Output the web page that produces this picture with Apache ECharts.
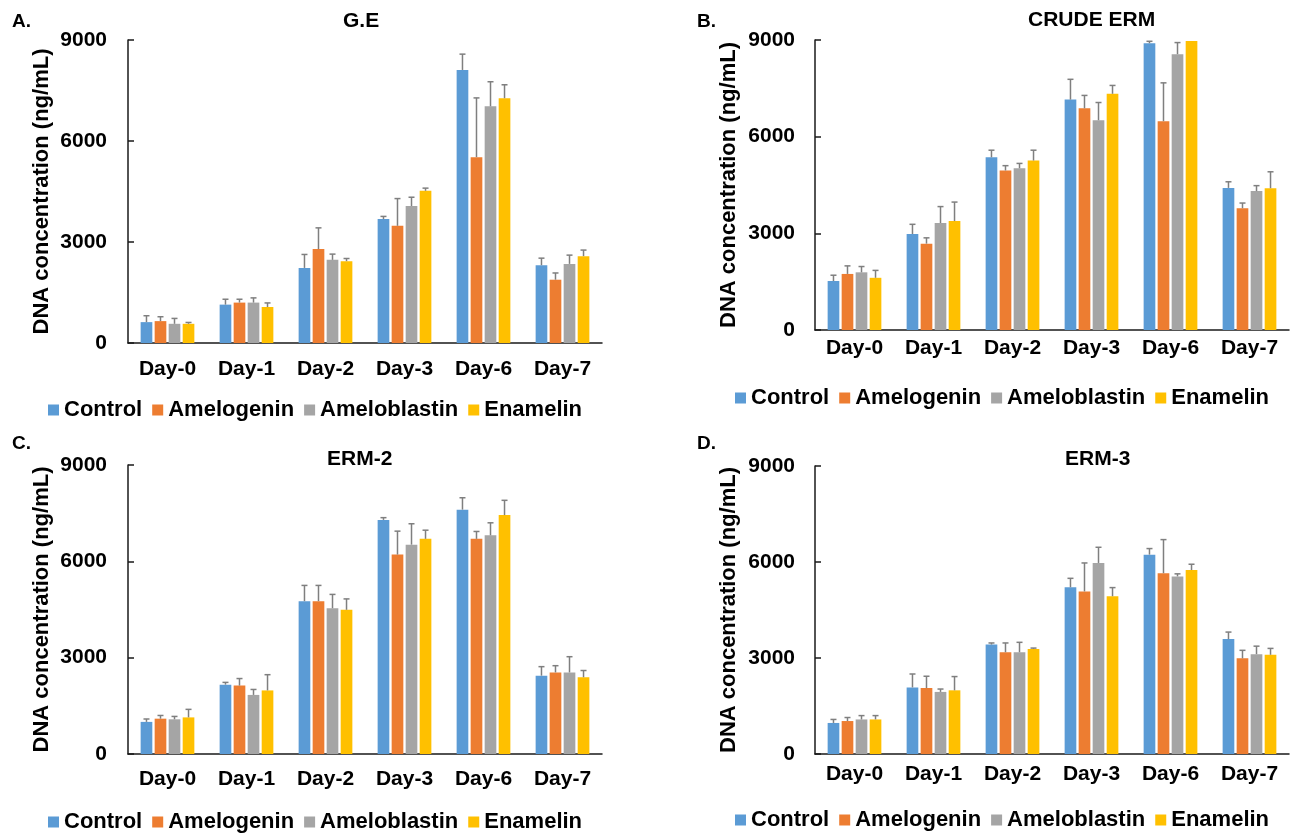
<!DOCTYPE html>
<html>
<head>
<meta charset="utf-8">
<script src="https://cdn.jsdelivr.net/npm/echarts@6/dist/echarts.min.js"></script>
<style>
html,body{margin:0;padding:0;background:#fff;}
#chart{width:1295px;height:834px;}
</style>
</head>
<body>
<div id="chart"></div>
<script>
// ---- Data ----
const categories = ['Day-0', 'Day-1', 'Day-2', 'Day-3', 'Day-6', 'Day-7'];
const seriesNames = ['Control', 'Amelogenin', 'Ameloblastin', 'Enamelin'];
const yTicks = [0, 3000, 6000, 9000];
const panelTitles = ['G.E', 'CRUDE ERM', 'ERM-2', 'ERM-3'];
const panelLetters = ['A.', 'B.', 'C.', 'D.'];

// A. G.E
const geControl = [620, 1140, 2230, 3680, 8110, 2310];
const geControlErr = [190, 160, 400, 80, 470, 210];
const geAmelogenin = [650, 1200, 2790, 3480, 5520, 1880];
const geAmelogeninErr = [130, 100, 630, 810, 1760, 200];
const geAmeloblastin = [570, 1200, 2470, 4070, 7030, 2350];
const geAmeloblastinErr = [160, 140, 170, 260, 730, 260];
const geEnamelin = [570, 1070, 2430, 4520, 7270, 2580];
const geEnamelinErr = [40, 120, 80, 80, 400, 180];

// B. CRUDE ERM
const crudeControl = [1520, 2980, 5360, 7150, 8900, 4410];
const crudeControlErr = [180, 300, 220, 630, 60, 190];
const crudeAmelogenin = [1740, 2680, 4950, 6880, 6480, 3780];
const crudeAmelogeninErr = [250, 180, 150, 400, 1190, 160];
const crudeAmeloblastin = [1790, 3320, 5020, 6510, 8560, 4310];
const crudeAmeloblastinErr = [180, 510, 150, 550, 360, 170];
const crudeEnamelin = [1620, 3380, 5260, 7330, 8970, 4400];
const crudeEnamelinErr = [230, 590, 320, 260, 0, 510];

// C. ERM-2
const erm2Control = [1000, 2160, 4760, 7290, 7610, 2440];
const erm2ControlErr = [90, 70, 490, 70, 370, 280];
const erm2Amelogenin = [1100, 2130, 4760, 6210, 6700, 2540];
const erm2AmelogeninErr = [100, 220, 490, 730, 230, 210];
const erm2Ameloblastin = [1080, 1840, 4540, 6520, 6810, 2540];
const erm2AmeloblastinErr = [90, 170, 430, 650, 390, 490];
const erm2Enamelin = [1140, 1980, 4490, 6700, 7440, 2390];
const erm2EnamelinErr = [250, 490, 340, 270, 460, 210];

// D. ERM-3
const erm3Control = [970, 2080, 3420, 5210, 6230, 3590];
const erm3ControlErr = [110, 420, 50, 280, 190, 220];
const erm3Amelogenin = [1030, 2060, 3180, 5080, 5650, 2990];
const erm3AmelogeninErr = [110, 370, 290, 890, 1050, 250];
const erm3Ameloblastin = [1080, 1940, 3180, 5970, 5550, 3120];
const erm3AmeloblastinErr = [120, 90, 310, 490, 80, 250];
const erm3Enamelin = [1080, 1990, 3280, 4930, 5750, 3100];
const erm3EnamelinErr = [120, 430, 30, 270, 180, 200];

// ---- Assembly ----
const panels = [
  {vals: [geControl, geAmelogenin, geAmeloblastin, geEnamelin],
   errs: [geControlErr, geAmelogeninErr, geAmeloblastinErr, geEnamelinErr]},
  {vals: [crudeControl, crudeAmelogenin, crudeAmeloblastin, crudeEnamelin],
   errs: [crudeControlErr, crudeAmelogeninErr, crudeAmeloblastinErr, crudeEnamelinErr]},
  {vals: [erm2Control, erm2Amelogenin, erm2Ameloblastin, erm2Enamelin],
   errs: [erm2ControlErr, erm2AmelogeninErr, erm2AmeloblastinErr, erm2EnamelinErr]},
  {vals: [erm3Control, erm3Amelogenin, erm3Ameloblastin, erm3Enamelin],
   errs: [erm3ControlErr, erm3AmelogeninErr, erm3AmeloblastinErr, erm3EnamelinErr]}
];

const colors = ['#5B9BD5', '#ED7D31', '#A5A5A5', '#FFC000'];
const FONT = "'Liberation Sans', Arial, sans-serif";
const CAT_GAP = 0.32, BAR_GAP = 0.2;

const layout = [
  {grid: {left: 128, top: 40, width: 474, height: 303}, xMargin: 16, yMargin: 21,
   legend: {left: 48, top: 399}, title: {left: 343, top: 11}, letter: {x: 12, y: 12}},
  {grid: {left: 815, top: 40, width: 474, height: 290}, xMargin: 8, yMargin: 20,
   legend: {left: 735, top: 387}, title: {left: 1028, top: 10}, letter: {x: 697, y: 12}},
  {grid: {left: 128, top: 465, width: 474, height: 289}, xMargin: 15, yMargin: 21,
   legend: {left: 48, top: 811}, title: {left: 327, top: 449}, letter: {x: 12, y: 434}},
  {grid: {left: 815, top: 466, width: 474, height: 288}, xMargin: 10, yMargin: 20,
   legend: {left: 735, top: 809}, title: {left: 1065, top: 449}, letter: {x: 697, y: 434}}
];

const axisColor = '#1a1a1a';
const grids = [], xAxes = [], yAxes = [], series = [], legends = [], titles = [], graphics = [];

layout.forEach((L, p) => {
  grids.push(Object.assign({}, L.grid));
  xAxes.push({
    type: 'category', gridIndex: p, data: categories,
    axisLine: {lineStyle: {color: axisColor, width: 1.5}},
    axisTick: {inside: true, length: 6, interval: 0, lineStyle: {color: axisColor, width: 1.5}},
    axisLabel: {interval: 0, margin: L.xMargin, color: '#000', fontSize: 21, fontWeight: 'bold', fontFamily: FONT},
    splitLine: {show: false}
  });
  yAxes.push({
    type: 'value', gridIndex: p, min: 0, max: 9000, interval: 3000,
    name: 'DNA concentration (ng/mL)', nameLocation: 'middle', nameGap: 75, nameRotate: 90,
    nameTextStyle: {color: '#000', fontSize: 22, fontWeight: 'bold', fontFamily: FONT},
    axisLine: {show: true, lineStyle: {color: axisColor, width: 1.5}},
    axisTick: {show: true, inside: true, length: 6, lineStyle: {color: axisColor, width: 1.5}},
    axisLabel: {margin: L.yMargin, color: '#000', fontSize: 21, fontWeight: 'bold', fontFamily: FONT,
      formatter: v => yTicks.includes(v) ? String(v) : ''},
    splitLine: {show: false}
  });
  const P = panels[p];
  seriesNames.forEach((nm, s) => {
    series.push({
      type: 'bar', name: nm, xAxisIndex: p, yAxisIndex: p,
      data: P.vals[s], barCategoryGap: (CAT_GAP * 100) + '%', barGap: (BAR_GAP * 100) + '%',
      itemStyle: {color: colors[s]}, emphasis: {disabled: true}, z: 2
    });
  });
  const errData = [];
  seriesNames.forEach((nm, s) => {
    P.vals[s].forEach((v, c) => errData.push([c, v, P.errs[s][c], s]));
  });
  series.push({
    type: 'custom', name: 'err' + p, xAxisIndex: p, yAxisIndex: p, z: 3,
    data: errData, encode: {x: 0, y: 1}, silent: true,
    renderItem: function (params, api) {
      const c = api.value(0), v = api.value(1), e = api.value(2), s = api.value(3);
      if (!(e > 0)) return null;
      const band = api.size([1, 0])[0];
      const avail = band * (1 - CAT_GAP);
      const w = avail / (4 + 3 * BAR_GAP);
      const cx = api.coord([c, 0])[0] - avail / 2 + w / 2 + s * w * (1 + BAR_GAP);
      const yb = api.coord([c, v])[1];
      const yt = api.coord([c, v + e])[1];
      const st = {stroke: '#7f7f7f', lineWidth: 1.5};
      return {type: 'group', children: [
        {type: 'line', shape: {x1: cx, y1: yb, x2: cx, y2: yt}, style: st},
        {type: 'line', shape: {x1: cx - 3, y1: yt, x2: cx + 3, y2: yt}, style: st}
      ]};
    }
  });
  legends.push({
    left: L.legend.left, top: L.legend.top, orient: 'horizontal', padding: 0,
    data: seriesNames, icon: 'rect', itemWidth: 11, itemHeight: 11, itemGap: 10,
    selectedMode: false,
    textStyle: {color: '#000', fontSize: 22, fontWeight: 'bold', fontFamily: FONT, lineHeight: 22}
  });
  titles.push({
    text: panelTitles[p], left: L.title.left, top: L.title.top, padding: 0,
    textStyle: {color: '#000', fontSize: 21, fontWeight: 'bold', fontFamily: FONT}
  });
  graphics.push({
    type: 'text', left: L.letter.x, top: L.letter.y,
    style: {text: panelLetters[p], fill: '#000', font: "bold 19px 'Liberation Sans', Arial, sans-serif"}
  });
});

const chart = echarts.init(document.getElementById('chart'), null, {renderer: 'canvas'});
chart.setOption({
  animation: false,
  backgroundColor: '#fff',
  title: titles,
  grid: grids,
  xAxis: xAxes,
  yAxis: yAxes,
  legend: legends,
  graphic: graphics,
  series: series
});
</script>
</body>
</html>
